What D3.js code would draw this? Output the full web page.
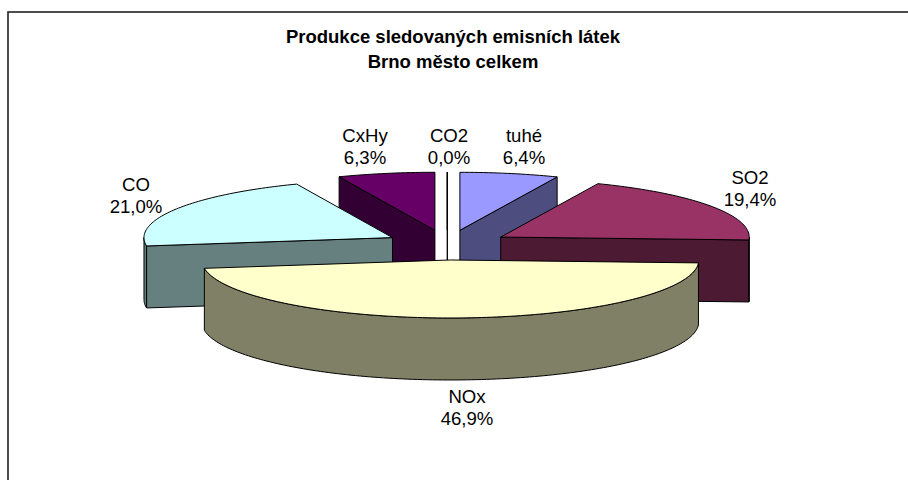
<!DOCTYPE html>
<html>
<head>
<meta charset="utf-8">
<script src="https://cdn.jsdelivr.net/npm/d3@7"></script>
<style>
  html, body { margin: 0; padding: 0; background: #fff; overflow: hidden; }
  svg { display: block; }
  text { font-family: "Liberation Sans", Arial, sans-serif; fill: #000; }
</style>
</head>
<body>
<div id="chart"></div>
<script>
const titleLines = ["Produkce sledovaných emisních látek", "Brno město celkem"];
const categories = ["tuhé", "SO2", "NOx", "CO", "CxHy", "CO2"];
const shares = [6.4, 19.4, 46.9, 21.0, 6.3, 0.0];
const topColors = ["#9999FF", "#993366", "#FFFFCC", "#CCFFFF", "#660066", "#FFFFFF"];
const sideColors = ["#4D4D80", "#4D1A33", "#808066", "#668080", "#330033", "#808080"];
// painted back to front
const drawOrder = ["CO2", "CxHy", "tuhé", "CO", "SO2", "NOx"];

const width = 908, height = 480;
const rx = 248.5, ry = 58, depth = 62;
const explode = 63, explodeY = 15;
const cx = 447.3, cy = 245;

const svg = d3.select("#chart").append("svg")
  .attr("width", width)
  .attr("height", height);

// chart frame, runs off the right and bottom of the picture
svg.append("rect")
  .attr("x", 8).attr("y", 12)
  .attr("width", 1000).attr("height", 600)
  .attr("fill", "#fff")
  .attr("stroke", "#222")
  .attr("stroke-width", 1.6);

svg.selectAll(".title")
  .data(titleLines)
  .enter()
  .append("text")
  .attr("class", "title")
  .attr("x", 453)
  .attr("y", (d, i) => 43 + i * 24.5)
  .attr("text-anchor", "middle")
  .attr("font-size", 18.5)
  .attr("font-weight", "bold")
  .text(d => d);

const pie = d3.pie().sort(null).value(d => d.share);
const rows = categories.map((name, i) => ({
  name, share: shares[i], top: topColors[i], side: sideColors[i]
}));
const slices = pie(rows);
slices.sort((a, b) => drawOrder.indexOf(a.data.name) - drawOrder.indexOf(b.data.name));

const line = d3.line();

function angles(a0, a1) {
  const n = Math.max(2, Math.ceil(Math.abs(a1 - a0) / 0.02));
  return d3.range(n + 1).map(i => a0 + (a1 - a0) * i / n);
}

slices.forEach(s => {
  const mid = (s.startAngle + s.endAngle) / 2;
  const ax = cx + explode * Math.sin(mid);
  const ay = cy - explodeY * Math.cos(mid);
  const rim = (a, dz) => [ax + rx * Math.sin(a), ay - ry * Math.cos(a) + dz];
  const g = svg.append("g").attr("class", "slice");
  const wall = (pts) => g.append("path")
    .attr("d", line(pts) + "Z")
    .attr("fill", s.data.side)
    .attr("stroke", "#000")
    .attr("stroke-linejoin", "round");

  // radial walls are seen only when they face the viewer
  [[s.startAngle, -1], [s.endAngle, 1]].forEach(([a, dir]) => {
    if (Math.cos(a + dir * Math.PI / 2) < 0) {
      wall([[ax, ay], rim(a, 0), rim(a, depth), [ax, ay + depth]]);
    }
  });

  // outer rim, lower half of the ellipse only
  const r0 = Math.max(s.startAngle, Math.PI / 2);
  const r1 = Math.min(s.endAngle, Math.PI * 1.5);
  if (r1 > r0) {
    const front = angles(r0, r1).map(a => rim(a, 0));
    const back = angles(r1, r0).map(a => rim(a, depth));
    wall(front.concat(back));
  }

  g.append("path")
    .attr("d", line([[ax, ay]].concat(angles(s.startAngle, s.endAngle).map(a => rim(a, 0)))) + "Z")
    .attr("fill", s.data.top)
    .attr("stroke", "#000")
    .attr("stroke-linejoin", "round");
});

// label anchors per slice
const labelX = [524, 750, 467, 136, 365, 449];
const labelY = [141.5, 184, 403, 191, 141.5, 141.5];
const fmt = v => v.toFixed(1).replace(".", ",") + "%";

categories.forEach((name, i) => {
  const t = svg.append("text")
    .attr("x", labelX[i])
    .attr("y", labelY[i])
    .attr("text-anchor", "middle")
    .attr("font-size", 18.6);
  t.append("tspan").attr("x", labelX[i]).text(name);
  t.append("tspan").attr("x", labelX[i]).attr("dy", 22).text(fmt(shares[i]));
});
</script>
</body>
</html>
